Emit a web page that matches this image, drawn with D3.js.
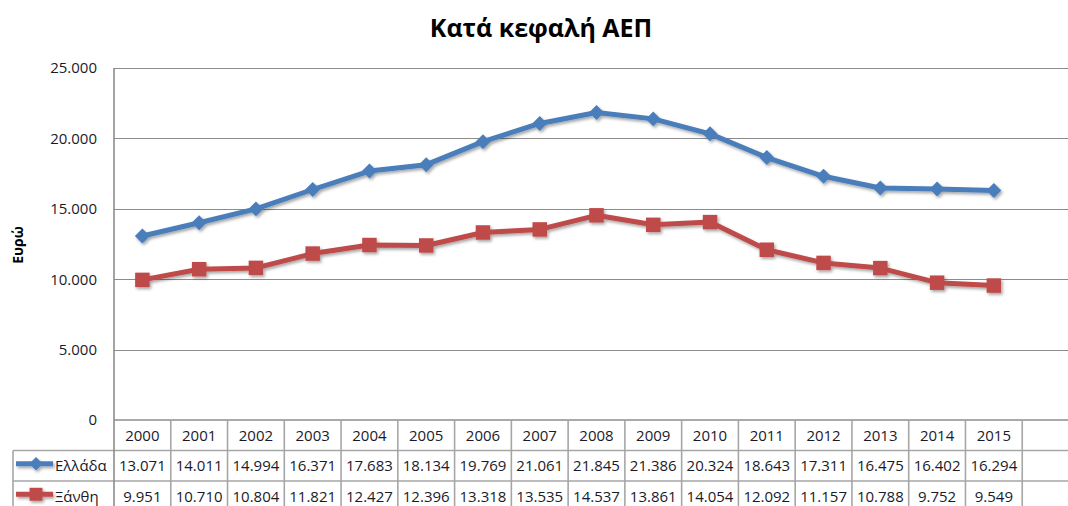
<!DOCTYPE html>
<html>
<head>
<meta charset="utf-8">
<script src="https://cdn.jsdelivr.net/npm/d3@7"></script>
<style>
  body { margin: 0; background: #fff; }
  text { font-family: "Open Sans", sans-serif; }
</style>
</head>
<body>
<script>
const years = ["2000", "2001", "2002", "2003", "2004", "2005", "2006", "2007",
  "2008", "2009", "2010", "2011", "2012", "2013", "2014", "2015", ""];
const greece = [13071, 14011, 14994, 16371, 17683, 18134, 19769, 21061,
  21845, 21386, 20324, 18643, 17311, 16475, 16402, 16294];
const xanthi = [9951, 10710, 10804, 11821, 12427, 12396, 13318, 13535,
  14537, 13861, 14054, 12092, 11157, 10788, 9752, 9549];
const seriesNames = ["Ελλάδα", "Ξάνθη"];
const yTicks = [0, 5000, 10000, 15000, 20000, 25000];

var width = 1068,
  height = 506;
var margin = { top: 68, left: 114, right: -11, bottom: 86 };

const gr = d3.formatLocale({ decimal: ",", thousands: ".", grouping: [3], currency: ["", "€"] });
const fmt = gr.format(",d");

const svg = d3.select("body").append("svg")
  .attr("width", width)
  .attr("height", height);

const defs = svg.append("defs");
defs.append("filter")
  .attr("id", "shadow")
  .attr("x", "-50%").attr("y", "-50%").attr("width", "200%").attr("height", "200%")
  .append("feDropShadow")
  .attr("dx", 1.5).attr("dy", 2)
  .attr("stdDeviation", 1.5)
  .attr("flood-color", "#000")
  .attr("flood-opacity", 0.35);

var x = d3.scaleBand()
  .domain(years)
  .range([margin.left, width - margin.right]);

var y = d3.scaleLinear()
  .domain([0, 25000])
  .range([height - margin.bottom, margin.top]);

const plotRight = width - margin.right;

// title
svg.append("text")
  .attr("x", 541)
  .attr("y", 37)
  .attr("text-anchor", "middle")
  .style("font-size", "25px")
  .style("font-weight", "bold")
  .attr("fill", "#000")
  .text("Κατά κεφαλή ΑΕΠ");

// y axis label
svg.append("text")
  .attr("transform", "translate(23," + (y(12500) + 1) + ") rotate(-90)")
  .attr("text-anchor", "middle")
  .style("font-size", "14px")
  .style("font-weight", "bold")
  .attr("fill", "#000")
  .text("Ευρώ");

// gridlines
svg.append("g")
  .selectAll("line")
  .data(yTicks.filter(d => d > 0))
  .join("line")
  .attr("x1", margin.left)
  .attr("x2", plotRight)
  .attr("y1", d => Math.round(y(d)) + 0.5)
  .attr("y2", d => Math.round(y(d)) + 0.5)
  .attr("stroke", "#8c8c8c")
  .attr("stroke-width", 1.2);

// y axis
const yAxis = svg.append("g")
  .attr("transform", "translate(" + margin.left + ",0)")
  .call(d3.axisLeft(y).tickValues(yTicks).tickFormat(fmt).tickSize(0).tickPadding(17));
yAxis.select(".domain").remove();
yAxis.selectAll("text")
  .style("font-size", "15px")
  .attr("fill", "#1a1a2a");

// data table
const rowH = 30.5;
const tableTop = y(0);
const table = svg.append("g");
const lineColor = "#a6a6a6";

// horizontal lines
[0, 1, 2, 3].forEach(i => {
  table.append("line")
    .attr("x1", i === 0 ? margin.left : 13)
    .attr("x2", plotRight)
    .attr("y1", tableTop + i * rowH)
    .attr("y2", tableTop + i * rowH)
    .attr("stroke", i === 0 ? "#8c8c8c" : lineColor)
    .attr("stroke-width", 1.6);
});
// vertical lines
years.forEach(d => {
  table.append("line")
    .attr("x1", x(d) + x.bandwidth())
    .attr("x2", x(d) + x.bandwidth())
    .attr("y1", tableTop)
    .attr("y2", height)
    .attr("stroke", lineColor)
    .attr("stroke-width", 1.6);
});
table.append("line")
  .attr("x1", margin.left).attr("x2", margin.left)
  .attr("y1", margin.top).attr("y2", height)
  .attr("stroke", "#8c8c8c").attr("stroke-width", 1.6);
table.append("line")
  .attr("x1", 13).attr("x2", 13)
  .attr("y1", tableTop + rowH).attr("y2", height)
  .attr("stroke", lineColor).attr("stroke-width", 1.6);

// header years
table.selectAll("text.year")
  .data(years)
  .join("text")
  .attr("class", "year")
  .attr("x", d => x(d) + x.bandwidth() / 2)
  .attr("y", tableTop + rowH / 2)
  .attr("dy", "0.36em")
  .attr("text-anchor", "middle")
  .style("font-size", "15px")
  .attr("fill", "#1a1a2a")
  .text(d => d);

// diamond = square turned by 45 degrees, like the spreadsheet marker
const series = [
  { name: seriesNames[0], values: greece, color: "#4a7ebb", rotate: 45, size: 112 },
  { name: seriesNames[1], values: xanthi, color: "#be4b48", rotate: 0, size: 210 }
];

series.forEach((s, si) => {
  const rowY = tableTop + rowH * (si + 1) + rowH / 2;
  table.selectAll("text.v" + si)
    .data(s.values)
    .join("text")
    .attr("class", "v" + si)
    .attr("x", (d, i) => x(years[i]) + x.bandwidth() / 2)
    .attr("y", rowY)
    .attr("dy", "0.36em")
    .attr("text-anchor", "middle")
    .style("font-size", "15px")
    .attr("fill", "#1a1a2a")
    .text(d => fmt(d));

  // legend key
  const key = table.append("g").attr("filter", "url(#shadow)");
  key.append("line")
    .attr("x1", 16).attr("x2", 53)
    .attr("y1", rowY - 2).attr("y2", rowY - 2)
    .attr("stroke", s.color)
    .attr("stroke-width", 5);
  key.append("path")
    .attr("transform", "translate(36," + (rowY - 2) + ") rotate(" + s.rotate + ")")
    .attr("d", d3.symbol().type(d3.symbolSquare).size(s.size * 0.8)())
    .attr("fill", s.color);
  table.append("text")
    .attr("x", 55)
    .attr("y", rowY)
    .attr("dy", "0.36em")
    .style("font-size", "15px")
    .attr("fill", "#1a1a2a")
    .text(s.name);
});

// lines
const line = d3.line()
  .x((d, i) => x(years[i]) + x.bandwidth() / 2)
  .y(d => y(d));

series.forEach(s => {
  const g = svg.append("g").attr("filter", "url(#shadow)");
  g.append("path")
    .datum(s.values)
    .attr("d", line)
    .attr("fill", "none")
    .attr("stroke", s.color)
    .attr("stroke-width", 5)
    .attr("stroke-linejoin", "round");
  g.selectAll("path.marker")
    .data(s.values)
    .join("path")
    .attr("class", "marker")
    .attr("transform", (d, i) => "translate(" + (x(years[i]) + x.bandwidth() / 2) + "," + y(d) + ") rotate(" + s.rotate + ")")
    .attr("d", d3.symbol().type(d3.symbolSquare).size(s.size))
    .attr("fill", s.color);
});
</script>
</body>
</html>
